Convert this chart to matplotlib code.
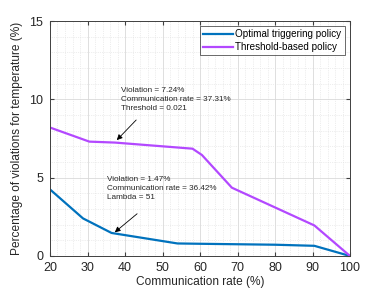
import matplotlib
matplotlib.use("Agg")
import matplotlib.pyplot as plt
from matplotlib.ticker import MultipleLocator

plt.rcParams['font.family'] = ['Liberation Sans', 'DejaVu Sans']

# Data
opt_x = [20, 28.8, 36.42, 54, 60, 80, 90.5, 100]
opt_y = [4.25, 2.4, 1.47, 0.8, 0.78, 0.72, 0.65, 0.0]
thr_x = [20, 30.5, 37.31, 58, 60.5, 68.5, 90.5, 100]
thr_y = [8.2, 7.3, 7.24, 6.85, 6.45, 4.36, 1.95, 0.0]
x_ticks = [20, 30, 40, 50, 60, 70, 80, 90, 100]
y_ticks = [0, 5, 10, 15]
labels = ["Optimal triggering policy", "Threshold-based policy"]
ann_thr = "Violation = 7.24%\nCommunication rate = 37.31%\nThreshold = 0.021"
ann_opt = "Violation = 1.47%\nCommunication rate = 36.42%\nLambda = 51"

blue = '#0072BD'
purple = '#b348ff'

fig = plt.figure(figsize=(3.88, 2.91), dpi=100)
ax = fig.add_axes([50/388, 1-256/291, 300/388, 235/291])

ax.plot(opt_x, opt_y, color=blue, lw=1.6, label=labels[0])
ax.plot(thr_x, thr_y, color=purple, lw=1.6, label=labels[1])

ax.set_xlim(20, 100)
ax.set_ylim(0, 15)
ax.set_xticks(x_ticks)
ax.set_yticks(y_ticks)
ax.xaxis.set_minor_locator(MultipleLocator(2))
ax.yaxis.set_minor_locator(MultipleLocator(1))
ax.grid(which='major', color='#d9d9d9', lw=0.6, ls='-')
ax.grid(which='minor', color='#dedede', lw=0.5, ls=':')
ax.set_axisbelow(True)
ax.tick_params(which='major', direction='in', length=3, top=True, right=True,
               labelsize=9, color='#404040', labelcolor='#262626')
ax.tick_params(axis='x', pad=4.5)
ax.tick_params(axis='y', pad=5)
ax.tick_params(which='minor', length=0)
for s in ax.spines.values():
    s.set_color('#404040')
    s.set_linewidth(0.7)

ax.set_xlabel("Communication rate (%)", fontsize=8.6, color='#262626', labelpad=1.5)
ax.set_ylabel("Percentage of violations for temperature (%)", fontsize=8.6,
              color='#262626', labelpad=4)

# annotations
ax.text(38.9, 10.78, ann_thr, fontsize=5.9, va='top', ha='left', linespacing=1.4,
        color='#262626')
ax.annotate('', xy=(37.3, 7.27), xytext=(43.5, 8.81),
            arrowprops=dict(arrowstyle='-|>', color='black', lw=0.6,
                            mutation_scale=8))
ax.text(35.2, 5.1, ann_opt, fontsize=5.9, va='top', ha='left', linespacing=1.4,
        color='#262626')
ax.annotate('', xy=(36.7, 1.40), xytext=(43.8, 2.81),
            arrowprops=dict(arrowstyle='-|>', color='black', lw=0.6,
                            mutation_scale=8))

leg = ax.legend(loc='upper right', fontsize=7.1, frameon=True, fancybox=False,
                borderpad=0.3, handlelength=3.0, handletextpad=0.3,
                labelspacing=0.3, borderaxespad=0.55)
leg.get_frame().set_edgecolor('#262626')
leg.get_frame().set_linewidth(0.6)

fig.savefig("out.png", dpi=100)
